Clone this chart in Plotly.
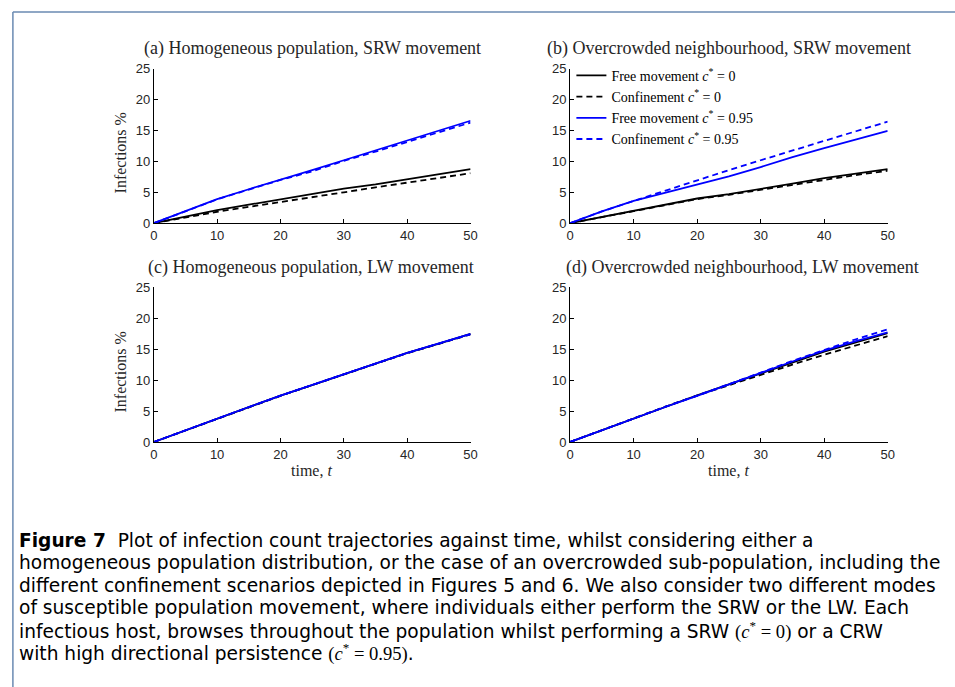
import plotly.graph_objects as go

# ---------------- data ----------------
time = [0, 5, 10, 15, 20, 25, 30, 35, 40, 45, 50]

a_free0 = [0, 1.1, 2.1, 3.0, 3.85, 4.7, 5.6, 6.3, 7.1, 7.9, 8.75]
a_conf0 = [0, 0.95, 1.85, 2.65, 3.4, 4.2, 5.0, 5.8, 6.6, 7.35, 8.1]
a_free95 = [0, 2.0, 3.9, 5.5, 7.0, 8.6, 10.2, 11.8, 13.4, 15.0, 16.6]
a_conf95 = [0, 1.95, 3.85, 5.45, 7.0, 8.4, 10.1, 11.6, 13.2, 14.8, 16.3]

b_free0 = [0, 1.0, 2.0, 3.0, 4.0, 4.7, 5.5, 6.4, 7.3, 8.0, 8.75]
b_conf0 = [0, 0.95, 1.95, 2.95, 3.9, 4.6, 5.4, 6.3, 7.1, 7.8, 8.5]
b_free95 = [0, 1.9, 3.6, 4.9, 6.2, 7.6, 9.1, 10.7, 12.15, 13.6, 14.95]
b_conf95 = [0, 1.9, 3.6, 5.3, 7.0, 8.6, 10.2, 11.8, 13.4, 14.9, 16.45]

c_free0 = [0, 1.9, 3.8, 5.65, 7.5, 9.2, 10.95, 12.7, 14.4, 15.9, 17.45]
c_conf0 = [0, 1.88, 3.78, 5.6, 7.45, 9.2, 10.9, 12.65, 14.35, 15.85, 17.4]
c_free95 = [0, 1.92, 3.8, 5.65, 7.5, 9.25, 10.95, 12.7, 14.4, 15.95, 17.45]
c_conf95 = [0, 1.9, 3.82, 5.62, 7.48, 9.22, 10.92, 12.68, 14.38, 15.9, 17.4]

d_free0 = [0, 1.9, 3.85, 5.7, 7.55, 9.3, 11.1, 12.9, 14.6, 16.1, 17.6]
d_conf0 = [0, 1.9, 3.85, 5.7, 7.5, 9.2, 10.8, 12.5, 14.1, 15.6, 17.1]
d_free95 = [0, 1.9, 3.85, 5.65, 7.45, 9.3, 11.2, 13.0, 14.75, 16.3, 17.7]
d_conf95 = [0, 1.9, 3.85, 5.7, 7.5, 9.3, 11.2, 13.1, 14.9, 16.6, 18.2]

panel_titles = [
    "(a) Homogeneous population, SRW movement",
    "(b) Overcrowded neighbourhood, SRW movement",
    "(c) Homogeneous population, LW movement",
    "(d) Overcrowded neighbourhood, LW movement",
]
series_names = [
    "Free movement <i>c</i><sup>*</sup> = 0",
    "Confinement <i>c</i><sup>*</sup> = 0",
    "Free movement <i>c</i><sup>*</sup> = 0.95",
    "Confinement <i>c</i><sup>*</sup> = 0.95",
]
x_ticks = [0, 10, 20, 30, 40, 50]
y_ticks = [0, 5, 10, 15, 20, 25]

caption_lines = [
    "<b>Figure 7</b>  Plot of infection count trajectories against time, whilst considering either a",
    "homogeneous population distribution, or the case of an overcrowded sub-population, including the",
    "different confinement scenarios depicted in Figures 5 and 6. We also consider two different modes",
    "of susceptible population movement, where individuals either perform the SRW or the LW. Each",
    "infectious host, browses throughout the population whilst performing a SRW "
    "<span style=\"font-family:'Liberation Serif'\">(<i>c</i><sup>*</sup> = 0)</span> or a CRW",
    "with high directional persistence "
    "<span style=\"font-family:'Liberation Serif'\">(<i>c</i><sup>*</sup> = 0.95)</span>.",
]

# ---------------- figure ----------------
W, H = 955, 687
fig = go.Figure()

panels = [
    (a_free0, a_conf0, a_free95, a_conf95),
    (b_free0, b_conf0, b_free95, b_conf95),
    (c_free0, c_conf0, c_free95, c_conf95),
    (d_free0, d_conf0, d_free95, d_conf95),
]
styles = [("#000000", "solid"), ("#000000", "6px,4px"), ("#0000ff", "solid"), ("#0000ff", "6px,4px")]

for p, series in enumerate(panels):
    ax = "" if p == 0 else str(p + 1)
    for s, ys in enumerate(series):
        col, dash = styles[s]
        fig.add_trace(go.Scatter(
            x=time, y=ys, mode="lines", name=series_names[s],
            line=dict(color=col, width=1.8, dash=dash),
            xaxis="x" + ax, yaxis="y" + ax,
            showlegend=(p == 1), hoverinfo="skip",
        ))

def px_x(v):
    return v / W

def px_y(v):
    return 1 - v / H

xdom_left = [px_x(151.5), px_x(472)]
xdom_right = [px_x(572.7), px_x(894)]
ydom_top = [px_y(221), px_y(63.3)]
ydom_bot = [px_y(444.7), px_y(286.5)]

axis_common = dict(
    showline=True, linecolor="#000000", linewidth=1,
    ticks="inside", ticklen=4, tickcolor="#000000",
    showgrid=False, zeroline=False, mirror=False,
    tickfont=dict(family="Liberation Sans, Arial", size=13, color="#262626"),
    fixedrange=True,
)
doms = [(xdom_left, ydom_top), (xdom_right, ydom_top), (xdom_left, ydom_bot), (xdom_right, ydom_bot)]
layout_axes = {}
for p, (xd, yd) in enumerate(doms):
    ax = "" if p == 0 else str(p + 1)
    layout_axes["xaxis" + ax] = dict(axis_common, domain=xd, range=[0, 50], tickvals=x_ticks,
                                     anchor="y" + ax)
    layout_axes["yaxis" + ax] = dict(axis_common, domain=yd, range=[0, 25], tickvals=y_ticks,
                                     anchor="x" + ax)
fig.update_layout(**layout_axes)

serif = "Liberation Serif, Times New Roman, serif"
annotations = []
title_pos = [(311.7, 42), (733, 42), (310.8, 266), (747.5, 266)]
for t, (cx, cy) in zip(panel_titles, title_pos):
    annotations.append(dict(text=t, x=px_x(cx), y=px_y(cy), xref="paper", yref="paper",
                            xanchor="center", yanchor="middle", showarrow=False,
                            font=dict(family=serif, size=18, color="#262626")))
for cy in (149, 373):
    annotations.append(dict(text="Infections %", x=px_x(118), y=px_y(cy), xref="paper", yref="paper",
                            xanchor="center", yanchor="middle", showarrow=False, textangle=-90,
                            font=dict(family=serif, size=16, color="#262626")))
for cx in (311, 733):
    annotations.append(dict(text="time, <i>t</i>", x=px_x(cx), y=px_y(474), xref="paper", yref="paper",
                            xanchor="center", yanchor="middle", showarrow=False,
                            font=dict(family=serif, size=16, color="#262626")))
cap_y = [545, 568, 591, 614, 637, 660]
for line, cy in zip(caption_lines, cap_y):
    annotations.append(dict(text=line, x=px_x(13), y=px_y(cy), xref="paper", yref="paper",
                            xanchor="left", yanchor="middle", showarrow=False, align="left",
                            font=dict(family="DejaVu Sans", size=18.6, color="#000000")))

shapes = [
    dict(type="line", xref="paper", yref="paper", x0=px_x(9), x1=1.02, y0=px_y(5), y1=px_y(5),
         line=dict(color="#6a8ab2", width=1.5)),
    dict(type="line", xref="paper", yref="paper", x0=px_x(9), x1=px_x(9), y0=px_y(5), y1=-0.02,
         line=dict(color="#6a8ab2", width=1.5)),
]

fig.update_layout(
    width=W, height=H,
    margin=dict(l=0, r=0, t=0, b=0),
    paper_bgcolor="#ffffff", plot_bgcolor="#ffffff",
    annotations=annotations, shapes=shapes,
    legend=dict(x=px_x(574), y=px_y(54), xanchor="left", yanchor="top",
                bgcolor="rgba(0,0,0,0)", borderwidth=0, itemwidth=30,
                font=dict(family=serif, size=14, color="#000000"),
                tracegroupgap=0),
    showlegend=True,
)

fig.write_html("out.html", config={"displayModeBar": False},
               post_script="document.body.style.margin='0px';")
